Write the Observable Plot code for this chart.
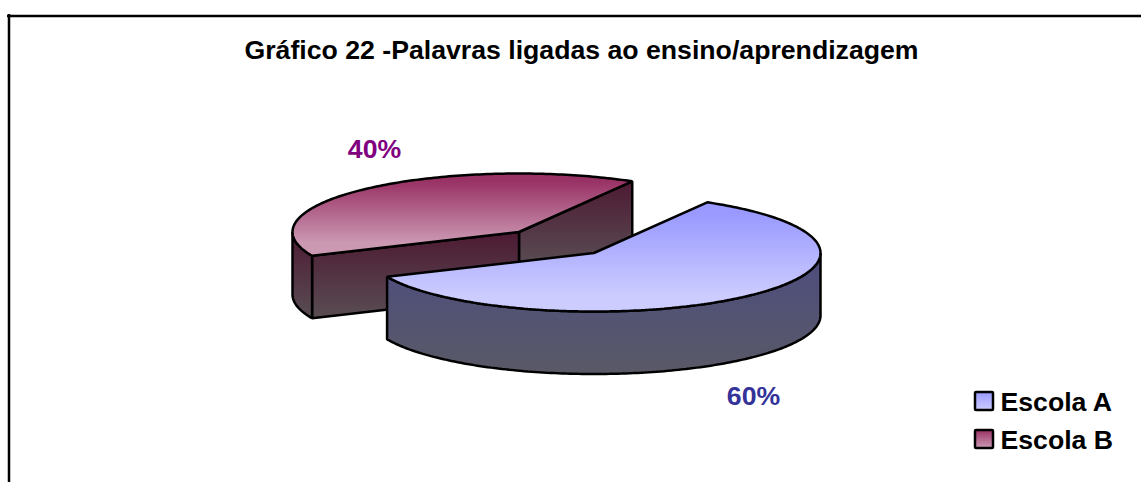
<!DOCTYPE html>
<html>
<head>
<meta charset="utf-8">
<script src="https://cdn.jsdelivr.net/npm/d3@7"></script>
<script src="https://cdn.jsdelivr.net/npm/@observablehq/plot@0.6"></script>
<style>html,body{margin:0;padding:0;background:#fff;overflow:hidden}svg{display:block}</style>
</head>
<body>
<div id="chart"></div>
<script>
const categories = ["Escola A", "Escola B"];
const shares = [60, 40];
const shareLabels = ["60%", "40%"];
const labelColors = ["#333399", "#800080"];
const titleText = "Gráfico 22 -Palavras ligadas ao ensino/aprendizagem";

const W = 1141, H = 482, FONT = "'Liberation Sans', Arial, sans-serif";
const RX = 226.5, RY = 58.5, DEPTH = 62.5, START = 30, SW = 2.5, FS = 26.67;
const centers = [[593.5, 252.5], [518.5, 231.5]];

// slice angles (degrees clockwise from the back of the ellipse) come from the shares
const total = d3.sum(shares);
const angleA = [START, START + 360 * shares[0] / total];
const angleB = [angleA[1], angleA[1] + 360 * shares[1] / total];

const pt = (c, deg, dz = 0) => {
  const t = deg * Math.PI / 180;
  return {x: c[0] + RX * Math.sin(t), y: c[1] - RY * Math.cos(t) + dz};
};
const arcPts = (c, a0, a1, dz = 0) => {
  const n = Math.max(2, Math.ceil(Math.abs(a1 - a0)));
  return d3.range(n + 1).map(i => pt(c, a0 + (a1 - a0) * i / n, dz));
};
const closed = pts => [...pts, pts[0]];
const apex = (c, dz = 0) => ({x: c[0], y: c[1] + dz});

const topFace = (c, a) => closed([apex(c), ...arcPts(c, a[0], a[1])]);
const cutFace = (c, a) => closed([apex(c), pt(c, a), pt(c, a, DEPTH), apex(c, DEPTH)]);
const rimFace = (c, a0, a1) => closed([...arcPts(c, a0, a1), ...arcPts(c, a1, a0, DEPTH)]);

const poly = (pts, id) => Plot.line(pts, {
  x: "x", y: "y", fill: `url(#${id})`, stroke: "black", strokeWidth: SW,
  strokeLinejoin: "miter", strokeLinecap: "butt", curve: "linear"
});

const legendRows = categories.map((name, i) => ({name, i}));
const legendX = 975, legendW = 18, legendY = [392, 430], legendH = 18;
const textStyle = {fontFamily: FONT, fontWeight: "bold", stroke: null, fontSize: FS};

const plot = Plot.plot({
  width: W, height: H,
  marginLeft: 0, marginRight: 0, marginTop: 0, marginBottom: 0,
  x: {domain: [0, W], range: [0, W], axis: null},
  y: {domain: [0, H], range: [0, H], axis: null},
  marks: [
    Plot.ruleY([15.5], {x1: 7, x2: W, stroke: "black", strokeWidth: 2.5}),
    Plot.ruleX([8.5], {y1: 14, y2: H, stroke: "black", strokeWidth: 2.5}),

    poly(cutFace(centers[1], angleB[1]), "wallB2"),
    poly(cutFace(centers[1], angleB[0]), "wallB"),
    poly(rimFace(centers[1], angleB[0], 270), "wallB"),
    poly(topFace(centers[1], angleB), "topB"),
    poly(rimFace(centers[0], 90, angleA[1]), "wallA"),
    poly(topFace(centers[0], angleA), "topA"),

    Plot.text([titleText], {x: () => 581, y: () => 50, text: d => d, ...textStyle, fill: "black"}),
    Plot.text([shareLabels[1]], {x: () => 374, y: () => 149, text: d => d, ...textStyle, fill: labelColors[1]}),
    Plot.text([shareLabels[0]], {x: () => 753, y: () => 396, text: d => d, ...textStyle, fill: labelColors[0]}),

    Plot.rect(legendRows.filter(d => d.i === 0), {x1: () => legendX, x2: () => legendX + legendW, y1: () => legendY[0], y2: () => legendY[0] + legendH, fill: "url(#swA)", stroke: "black", strokeWidth: SW, rx: 1}),
    Plot.rect(legendRows.filter(d => d.i === 1), {x1: () => legendX, x2: () => legendX + legendW, y1: () => legendY[1], y2: () => legendY[1] + legendH, fill: "url(#swB)", stroke: "black", strokeWidth: SW, rx: 1}),
    Plot.text(legendRows, {x: () => 1000, y: d => legendY[d.i] + legendH / 2 + 1, text: "name", textAnchor: "start", ...textStyle, fill: "black"})
  ]
});

const defs = d3.select(plot).insert("defs", ":first-child");
const grad = (id, stops) => {
  const g = defs.append("linearGradient").attr("id", id).attr("x1", 0).attr("y1", 0).attr("x2", 0).attr("y2", 1);
  stops.forEach(([o, c]) => g.append("stop").attr("offset", o).attr("stop-color", c));
};
grad("topA", [[0.1, "#9999ff"], [0.85, "#ccccff"]]);
grad("topB", [[0.1, "#993366"], [0.85, "#cc99b3"]]);
grad("wallA", [[0, "#4d4d80"], [1, "#595966"]]);
grad("wallB", [[0, "#4d1a33"], [1, "#594d53"]]);
grad("wallB2", [[0, "#4d1a33"], [0.75, "#594d53"]]);
grad("swA", [[0, "#9999ff"], [1, "#ccccff"]]);
grad("swB", [[0, "#993366"], [1, "#cc99b3"]]);

document.getElementById("chart").append(plot);
</script>
</body>
</html>
